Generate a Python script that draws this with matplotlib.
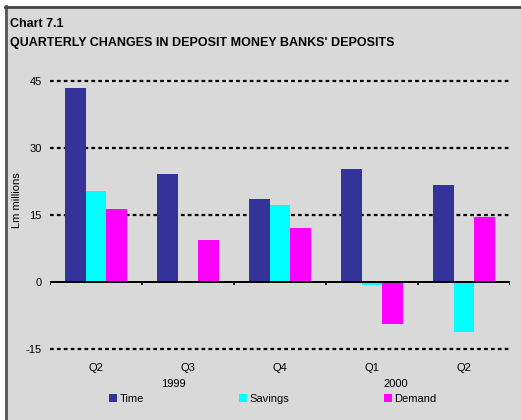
import matplotlib
matplotlib.use("Agg")
import matplotlib.pyplot as plt
import numpy as np
from matplotlib.patches import Rectangle
from matplotlib.lines import Line2D

plt.rcParams['font.family'] = ['Liberation Sans', 'DejaVu Sans']

# data (Lm millions)
quarters = ['Q2', 'Q3', 'Q4', 'Q1', 'Q2']
years = ['1999', '2000']
series_names = ['Time', 'Savings', 'Demand']
time_vals = [43.4, 24.2, 18.6, 25.3, 21.7]
savings_vals = [20.4, 0.0, 17.2, -0.7, -11.3]
demand_vals = [16.3, 9.4, 12.1, -9.3, 14.5]
colors = ['#333399', '#00FFFF', '#FF00FF']

W, H = 521, 420
BG = '#d9d9d9'

fig = plt.figure(figsize=(W / 100, H / 100), dpi=100)
fig.patch.set_facecolor(BG)

# white margin and dark frame line on left/top
fig.patches.append(Rectangle((0, 0), 5 / W, 1, transform=fig.transFigure,
                             facecolor='white', edgecolor='none', zorder=0))
fig.patches.append(Rectangle((0, 1 - 6 / H), 1, 6 / H, transform=fig.transFigure,
                             facecolor='white', edgecolor='none', zorder=0))
fig.add_artist(Line2D([6 / W, 6 / W], [0, 1 - 6 / H], transform=fig.transFigure,
                      color='#555555', lw=2))
fig.add_artist(Line2D([5 / W, 1], [1 - 6.5 / H, 1 - 6.5 / H], transform=fig.transFigure,
                      color='#444444', lw=2))

ax = fig.add_axes([50 / W, (H - 349) / H, 460 / W, 268 / H])
ax.set_facecolor(BG)

x = np.arange(len(quarters))
width = 0.228
for k, (vals, col, name) in enumerate(zip([time_vals, savings_vals, demand_vals], colors, series_names)):
    ax.bar(x + (k - 1) * width, vals, width, color=col, label=name, zorder=3)

ax.set_xlim(-0.5, len(quarters) - 0.5)
ax.set_ylim(-15, 45)
ax.set_yticks([-15, 0, 15, 30, 45])
ax.set_yticklabels(['-15', '0', '15', '30', '45'], fontsize=8)
for yv in [-15, 15, 30, 45]:
    ax.axhline(yv, color='black', lw=1.6, ls=(0, (1.7, 1.4)), zorder=1, clip_on=False)
ax.axhline(0, color='black', lw=1.4, zorder=4)
# category separators on the zero line
ax.vlines(np.arange(len(quarters) + 1) - 0.5, -0.7, 0, color='black', lw=1.2, zorder=4)

ax.set_xticks(x)
ax.set_xticklabels(quarters, fontsize=8)
ax.tick_params(axis='both', length=0)
ax.tick_params(axis='x', pad=10)
ax.tick_params(axis='y', pad=6)
for s in ax.spines.values():
    s.set_visible(False)

fig.text(17 / W, 1 - 200 / H, 'Lm millions', rotation=90, fontsize=8,
         ha='center', va='center')

# year labels
for yr, xpos in zip(years, [0.84, 3.26]):
    ax.text(xpos, -22.8, yr, ha='center', va='center', fontsize=8)

fig.text(10 / W, 1 - 24 / H, 'Chart 7.1', fontsize=9, fontweight='bold', va='center')
fig.text(10 / W, 1 - 43 / H, "QUARTERLY CHANGES IN DEPOSIT MONEY BANKS' DEPOSITS",
         fontsize=9, fontweight='bold', va='center')

fig.legend(loc='center', bbox_to_anchor=(273 / W, 1 - 399 / H), ncol=3, frameon=False,
           fontsize=8, handlelength=0.7, handleheight=0.7, handletextpad=0.2,
           columnspacing=8.6, borderpad=0)

fig.savefig('out.png', dpi=100, facecolor=BG)
